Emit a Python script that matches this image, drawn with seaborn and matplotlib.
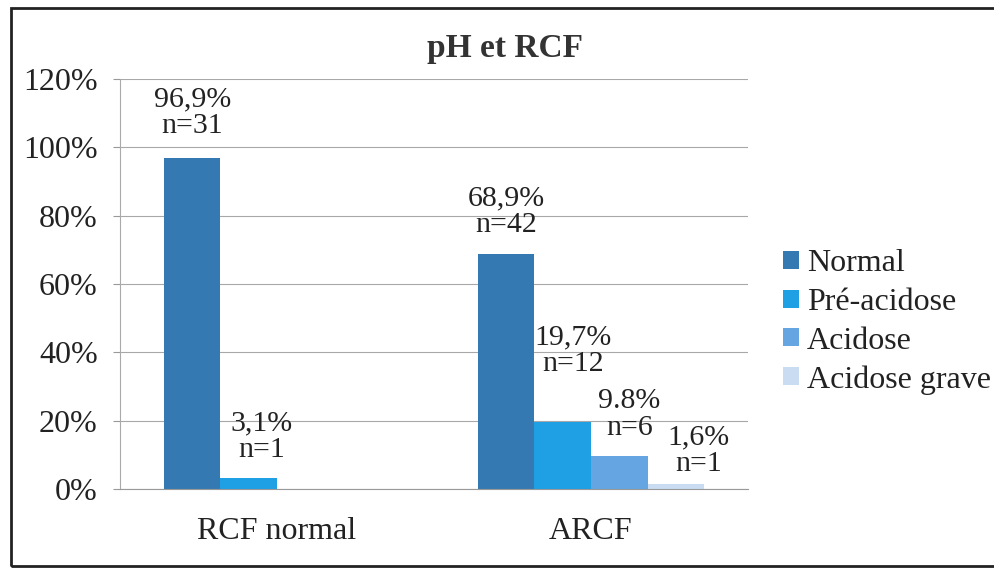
import pandas as pd
import numpy as np
import matplotlib
matplotlib.use('Agg')
import matplotlib.pyplot as plt
from matplotlib.patches import Rectangle
import seaborn as sns

groupes = ['RCF normal', 'ARCF']
etats = ['Normal', 'Pré-acidose', 'Acidose', 'Acidose grave']
pct_rcf_normal = [96.9, 3.1, 0, 0]
pct_arcf = [68.9, 19.7, 9.8, 1.6]
n_rcf_normal = [31, 1, 0, 0]
n_arcf = [42, 12, 6, 1]
lbl_rcf_normal = ['96,9%', '3,1%', '', '']
lbl_arcf = ['68,9%', '19,7%', '9.8%', '1,6%']
yticks = [0, 20, 40, 60, 80, 100, 120]

couleurs = ['#3479b1', '#1f9fe4', '#64a5e2', '#c9dcf1']

df = pd.DataFrame({
    'groupe': [groupes[0]] * 4 + [groupes[1]] * 4,
    'etat': etats + etats,
    'pct': pct_rcf_normal + pct_arcf,
})

sns.set_style('white')
plt.rcParams['font.family'] = ['Liberation Serif', 'DejaVu Serif']
plt.rcParams['text.color'] = '#222222'

fig = plt.figure(figsize=(9.94, 5.68), dpi=100)
ax = fig.add_axes([120 / 994, 79 / 568, 628 / 994, 410 / 568])

sns.barplot(data=df, x='groupe', y='pct', hue='etat', palette=couleurs,
            width=0.72, saturation=1, linewidth=0, ax=ax)

ax.set_ylim(0, 120)
ax.set_xlim(-0.5, 1.5)
ax.set_yticks(yticks)
ax.set_yticklabels([f'{v}%' for v in yticks], fontsize=23, color='#222222')
ax.tick_params(axis='y', length=5, width=0.8, color='#999999', pad=11, left=True)
ax.tick_params(axis='x', length=0, pad=20, labelsize=23, labelcolor='#222222')
ax.set_xlabel('')
ax.set_ylabel('')
ax.yaxis.grid(True, color='#a8a8a8', linewidth=0.8)
ax.set_axisbelow(True)
for s in ['top', 'right']:
    ax.spines[s].set_visible(False)
ax.spines['left'].set_color('#aaaaaa')
ax.spines['left'].set_linestyle((0, (2, 1)))
ax.spines['bottom'].set_color('#999999')

# labels above bars, nudged like the original
decalages = [[(0, 45), (13, 42), None, None],
             [(0, 42), (10, 71), (10, 41), (23, 33)]]
pcts = [pct_rcf_normal, pct_arcf]
ns = [n_rcf_normal, n_arcf]
lbls = [lbl_rcf_normal, lbl_arcf]
for j, cont in enumerate(ax.containers):
    for i, bar in enumerate(cont.patches):
        if decalages[i][j] is None:
            continue
        x = bar.get_x() + bar.get_width() / 2
        txt = lbls[i][j] + '\nn=' + str(ns[i][j])
        ax.annotate(txt, xy=(x, pcts[i][j]), xytext=decalages[i][j],
                    textcoords='offset pixels', ha='center', va='center',
                    fontsize=21.5, linespacing=1.05, color='#222222')

handles, labels = ax.get_legend_handles_labels()
leg = ax.legend(handles, labels, loc='center left', bbox_to_anchor=(783 / 994, 1 - 322 / 568),
                bbox_transform=fig.transFigure, frameon=False, fontsize=23,
                handlelength=0.5, handleheight=0.5, handletextpad=0.25, labelspacing=0.3,
                borderaxespad=0, borderpad=0)

fig.text(505 / 994, 1 - 48 / 568, 'pH et RCF', ha='center', va='center',
         fontsize=24, fontweight='bold', color='#333333')

fig.add_artist(Rectangle((11 / 994, 1 - 566 / 568), 1.0, (566 - 8) / 568,
                         transform=fig.transFigure, fill=False, edgecolor='#222222', linewidth=2))

fig.savefig('out.png', dpi=100)
